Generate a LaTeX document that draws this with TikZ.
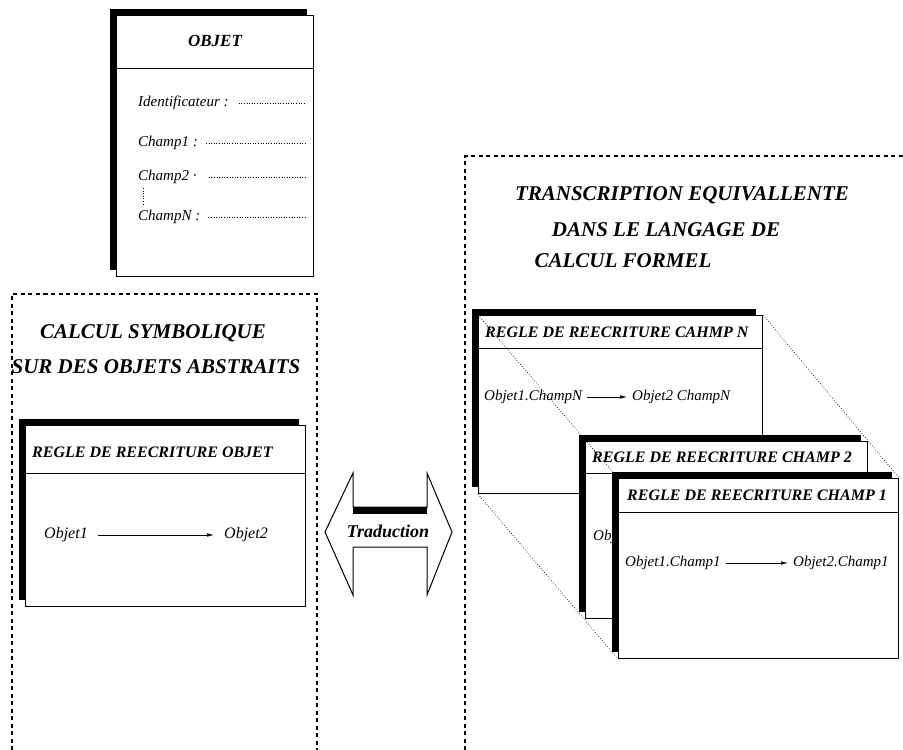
\documentclass[tikz,border=0pt]{standalone}
\usepackage{fontspec}
\setmainfont{Liberation Serif}
\usetikzlibrary{shadows,arrows.meta}
\begin{document}
\begin{tikzpicture}[x=1pt,y=-1pt,
  card/.style={draw,line width=1.1pt,fill=white,anchor=north west,inner sep=0pt,
    drop shadow={shadow xshift=-7pt,shadow yshift=7pt,fill=black,opacity=1}},
  ttl/.style={font=\fontsize{21}{25}\selectfont\bfseries\itshape,inner sep=0pt},
  hd/.style={font=\fontsize{16}{19}\selectfont\bfseries\itshape,anchor=west,inner sep=0pt},
  fld/.style={font=\fontsize{15}{18}\selectfont\itshape,anchor=west,inner sep=0pt},
  leader/.style={line width=0.6pt,dash pattern=on 1pt off 1.6pt},
  zone/.style={line width=1.2pt,dash pattern=on 4pt off 3.5pt},
  persp/.style={line width=0.7pt,dotted},
  rw/.style={-{Latex[length=7pt,width=3.5pt]},line width=0.6pt,shorten <=5pt,shorten >=5pt}]
\useasboundingbox (0,0) rectangle (903,750);

\draw[zone] (12,750) -- (12,294) -- (317,294) -- (317,750);
\draw[zone] (465,750) -- (465,156) -- (903,156);

\node[card,minimum width=197pt,minimum height=261pt] (objet) at (116,15) {};
\draw[line width=1pt] ([yshift=-53pt]objet.north west) -- ([yshift=-53pt]objet.north east);
\node[font=\fontsize{17}{20}\selectfont\bfseries\itshape] (objetT) at (215,41) {OBJET};
\node[fld] (idf) at (138,103) {Identificateur :};
\node[fld] (ch1) at (138,143) {Champ1 :};
\node[fld] (ch2) at (138,177) {Champ2 ·};
\node[fld] (chN) at (138,217) {ChampN :};
\draw[leader,shorten >=8pt] ([xshift=10pt]idf.east) -- (idf.east -| objet.east);
\draw[leader,shorten >=8pt] ([xshift=8pt]ch1.east) -- (ch1.east -| objet.east);
\draw[leader,shorten >=8pt] ([xshift=12pt]ch2.east) -- (ch2.east -| objet.east);
\draw[leader,shorten >=8pt] ([xshift=8pt]chN.east) -- (chN.east -| objet.east);
\draw[leader] ([xshift=5pt,yshift=-4pt]ch2.south west) -- ([xshift=5pt,yshift=4pt]chN.north west);

\node[ttl] (symb1) at (153,333) {CALCUL SYMBOLIQUE};
\node[ttl] (symb2) at (156,367) {SUR DES OBJETS ABSTRAITS};

\node[card,minimum width=280pt,minimum height=181pt] (regle) at (25,425) {};
\draw[line width=1pt] ([yshift=-48pt]regle.north west) -- ([yshift=-48pt]regle.north east);
\node[hd] (regleT) at (32,452) {REGLE DE REECRITURE OBJET};
\node[fld,font=\fontsize{16}{19}\selectfont\itshape] (o1) at (44,535) {Objet1};
\node[fld,font=\fontsize{16}{19}\selectfont\itshape] (o2) at (224,535) {Objet2};
\draw[rw,shorten <=10pt,shorten >=10pt] (o1.east) -- (o2.west);

\draw[line width=1pt,fill=white] (325,532) -- (353,473) -- (353,507) -- (427,507) -- (427,473)
  -- (452,532) -- (427,595) -- (427,547) -- (353,547) -- (353,595) -- cycle;
\fill (353,507) rectangle (427,514);
\node[font=\fontsize{18}{21}\selectfont\bfseries\itshape] (trad) at (388,531) {Traduction};

\node[ttl] (form1) at (682,195) {TRANSCRIPTION EQUIVALLENTE};
\node[ttl] (form2) at (666,230) {DANS LE LANGAGE DE};
\node[ttl] (form3) at (623,261) {CALCUL FORMEL};

\node[card,minimum width=284pt,minimum height=178pt] (cardN) at (478,315) {};
\draw[line width=1pt] ([yshift=-33pt]cardN.north west) -- ([yshift=-33pt]cardN.north east);
\node[hd] (cardNT) at (485,332) {REGLE DE REECRITURE CAHMP N};
\node[fld] (nA) at (484,397) {Objet1.ChampN};
\node[fld] (nB) at (632,397) {Objet2 ChampN};
\draw[rw] (nA.east) -- (nB.west);

\node[card,minimum width=282pt,minimum height=177pt] (card2) at (585,441) {};
\draw[line width=1pt] ([yshift=-32pt]card2.north west) -- ([yshift=-32pt]card2.north east);
\node[hd] (card2T) at (592,457) {REGLE DE REECRITURE CHAMP 2};
\node[fld] (dA) at (593,537) {Objet1.Champ2};

\node[card,minimum width=280pt,minimum height=180pt] (card1) at (618,478) {};
\draw[line width=1pt] ([yshift=-34pt]card1.north west) -- ([yshift=-34pt]card1.north east);
\node[hd] (card1T) at (627,495) {REGLE DE REECRITURE CHAMP 1};
\node[fld] (uA) at (625,563) {Objet1.Champ1};
\node[fld] (uB) at (793,563) {Objet2.Champ1};
\draw[rw] (uA.east) -- (uB.west);

\draw[persp] (cardN.north west) -- (card1.north west);
\draw[persp] (cardN.north east) -- (card1.north east);
\draw[persp] (cardN.south west) -- (card1.south west);
\end{tikzpicture}
\end{document}
